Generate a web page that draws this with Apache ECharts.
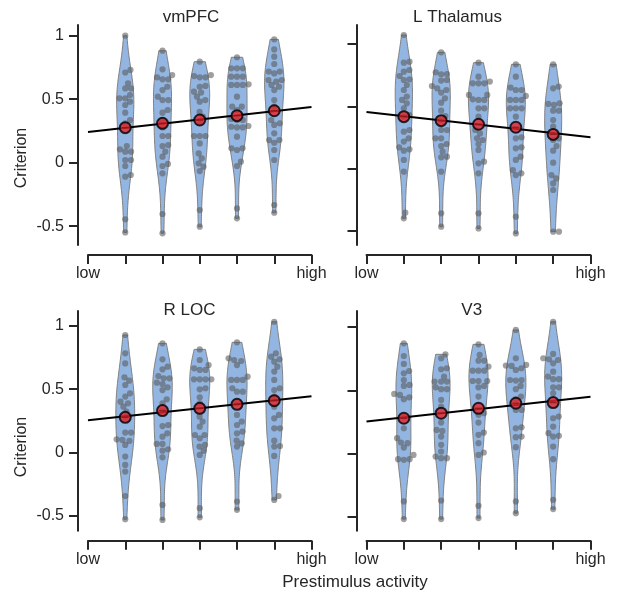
<!DOCTYPE html>
<html>
<head>
<meta charset="utf-8">
<script src="https://cdn.jsdelivr.net/npm/echarts@6/dist/echarts.min.js"></script>
<style>
  html, body { margin: 0; padding: 0; background: #ffffff; }
  #chart { width: 617px; height: 597px; }
</style>
</head>
<body>
<div id="chart"></div>
<script>
// Bin positions on the 0..6 activity axis (0 = low, 6 = high)
const binPositions = [1, 2, 3, 4, 5];
const xTickLabels = { 0: 'low', 6: 'high' };
const yTickValues = [-0.5, 0, 0.5, 1];
const regionNames = ['vmPFC', 'L Thalamus', 'R LOC', 'V3'];
const yAxisTitle = 'Criterion';
const xAxisTitle = 'Prestimulus activity';

// Per-subject criterion values, one array per activity bin
const vmPFC_bins = [
  [1.00, 0.73, 0.71, 0.625, 0.585, 0.585, 0.533, 0.507, 0.507, 0.48, 0.454, 0.394, 0.336, 0.31, 0.131, 0.087, 0.087, 0.105, 0.021, 0.021, -0.026, -0.097, -0.11, -0.446, -0.549],
  [0.882, 0.735, 0.69, 0.656, 0.656, 0.672, 0.598, 0.572, 0.52, 0.493, 0.493, 0.415, 0.394, 0.336, 0.278, 0.21, 0.21, 0.139, 0.131, 0.087, 0.047, -0.01, -0.026, -0.084, -0.404, -0.556],
  [0.795, 0.69, 0.672, 0.672, 0.682, 0.604, 0.598, 0.559, 0.552, 0.52, 0.48, 0.493, 0.40, 0.362, 0.323, 0.21, 0.21, 0.21, 0.152, 0.073, 0.034, -0.005, -0.031, -0.066, -0.373, -0.504],
  [0.83, 0.743, 0.743, 0.743, 0.677, 0.677, 0.677, 0.617, 0.612, 0.612, 0.612, 0.52, 0.441, 0.441, 0.415, 0.344, 0.336, 0.336, 0.289, 0.278, 0.278, 0.283, 0.205, 0.113, 0.10, 0.113, 0.008, -0.026, -0.36, -0.438],
  [0.971, 0.892, 0.835, 0.777, 0.717, 0.703, 0.717, 0.651, 0.638, 0.651, 0.598, 0.572, 0.612, 0.493, 0.441, 0.31, 0.297, 0.336, 0.231, 0.178, 0.157, 0.178, 0.10, 0.021, -0.333, -0.394]
];
const vmPFC_means = [0.276, 0.310, 0.336, 0.370, 0.409];

const lThalamus_bins = [
  [1.072, 0.858, 0.85, 0.791, 0.778, 0.743, 0.717, 0.711, 0.671, 0.631, 0.578, 0.551, 0.524, 0.484, 0.43, 0.417, 0.31, 0.297, 0.243, 0.217, 0.171, 0.155, 0.144, 0.07, -0.024, -0.353, -0.398],
  [0.933, 0.773, 0.757, 0.759, 0.711, 0.706, 0.663, 0.644, 0.631, 0.61, 0.564, 0.529, 0.465, 0.422, 0.39, 0.31, 0.31, 0.243, 0.243, 0.198, 0.182, 0.136, 0.091, 0.096, -0.024, -0.358, -0.465],
  [0.85, 0.738, 0.698, 0.684, 0.684, 0.684, 0.591, 0.591, 0.551, 0.551, 0.556, 0.484, 0.484, 0.417, 0.31, 0.283, 0.243, 0.23, 0.198, 0.15, 0.056, 0.043, -0.037, -0.358, -0.479],
  [0.837, 0.738, 0.631, 0.631, 0.65, 0.583, 0.551, 0.551, 0.551, 0.484, 0.484, 0.484, 0.417, 0.243, 0.251, 0.171, 0.163, 0.096, 0.07, -0.011, -0.037, -0.051, -0.385, -0.519],
  [0.837, 0.644, 0.658, 0.524, 0.511, 0.519, 0.465, 0.465, 0.39, 0.337, 0.243, 0.23, 0.182, 0.144, 0.048, -0.051, -0.078, -0.118, -0.171, -0.505, -0.505]
];
const lThalamus_means = [0.417, 0.385, 0.356, 0.332, 0.275];

const rLOC_bins = [
  [0.929, 0.784, 0.704, 0.567, 0.594, 0.533, 0.467, 0.441, 0.401, 0.388, 0.361, 0.322, 0.277, 0.156, 0.156, 0.09, 0.098, 0.103, 0.058, -0.034, -0.1, -0.153, -0.346, -0.53],
  [0.863, 0.736, 0.657, 0.678, 0.604, 0.586, 0.586, 0.551, 0.541, 0.515, 0.493, 0.42, 0.388, 0.33, 0.216, 0.208, 0.15, 0.124, 0.066, 0.066, 0.024, 0.013, -0.04, -0.417, -0.536],
  [0.815, 0.731, 0.691, 0.652, 0.652, 0.665, 0.578, 0.578, 0.578, 0.578, 0.507, 0.499, 0.435, 0.388, 0.282, 0.243, 0.203, 0.137, 0.137, 0.111, 0.058, 0.045, 0.013, -0.021, -0.443, -0.515],
  [0.871, 0.744, 0.731, 0.723, 0.691, 0.599, 0.573, 0.573, 0.573, 0.507, 0.48, 0.48, 0.388, 0.296, 0.243, 0.216, 0.164, 0.15, 0.092, 0.071, 0.045, -0.39, -0.456],
  [1.034, 0.784, 0.757, 0.718, 0.736, 0.678, 0.639, 0.573, 0.507, 0.493, 0.441, 0.361, 0.296, 0.269, 0.19, 0.19, 0.092, 0.05, 0.045, -0.029, -0.346, -0.377]
];
const rLOC_means = [0.277, 0.330, 0.348, 0.380, 0.409];

const v3_bins = [
  [0.872, 0.772, 0.709, 0.653, 0.635, 0.582, 0.543, 0.535, 0.464, 0.472, 0.445, 0.43, 0.29, 0.2, 0.121, 0.087, 0.047, 0.082, -0.011, -0.045, -0.045, -0.05, -0.379, -0.519],
  [0.785, 0.754, 0.675, 0.667, 0.609, 0.569, 0.569, 0.569, 0.509, 0.509, 0.524, 0.424, 0.372, 0.245, 0.187, 0.179, 0.134, 0.069, 0.016, -0.024, -0.037, -0.037, -0.372, -0.519],
  [0.864, 0.78, 0.735, 0.735, 0.688, 0.656, 0.656, 0.656, 0.574, 0.574, 0.574, 0.535, 0.524, 0.451, 0.319, 0.306, 0.245, 0.166, 0.148, 0.082, 0.008, -0.011, -0.414, -0.511],
  [0.978, 0.754, 0.701, 0.696, 0.675, 0.693, 0.661, 0.582, 0.582, 0.577, 0.535, 0.509, 0.451, 0.43, 0.345, 0.345, 0.208, 0.2, 0.134, 0.129, 0.05, -0.379, -0.472],
  [1.043, 0.788, 0.74, 0.746, 0.754, 0.714, 0.648, 0.609, 0.588, 0.588, 0.524, 0.524, 0.477, 0.292, 0.279, 0.213, 0.14, 0.134, 0.161, 0.055, -0.045, -0.366, -0.44]
];
const v3_means = [0.279, 0.319, 0.358, 0.398, 0.403];

const panelBins = [vmPFC_bins, lThalamus_bins, rLOC_bins, v3_bins];
const panelMeans = [vmPFC_means, lThalamus_means, rLOC_means, v3_means];

// ---- layout and style ----
const FONT = "'Liberation Sans', Arial, sans-serif";
const INK = '#262626';
const panelLayout = [
  { left: 88,    top: 25,  width: 223.5, height: 220,   ymin: -0.648, ymax: 1.084, title: [191, 17],   ylabel: [22, 158] },
  { left: 366.5, top: 25,  width: 224,   height: 220,   ymin: -0.612, ymax: 1.152, title: [457.5, 17], ylabel: null },
  { left: 88,    top: 311, width: 223.5, height: 219.7, ymin: -0.621, ymax: 1.119, title: [189.5, 310], ylabel: [22, 447] },
  { left: 366.5, top: 311, width: 224,   height: 219.7, ymin: -0.611, ymax: 1.128, title: [471.7, 310], ylabel: null }
];
const VIOLIN_HALF_WIDTH = 0.27;   // in x-axis units, for the widest violin of a panel
const DOT_DIAMETER = 5.8;         // px, also used for swarm spacing

// Gaussian KDE (Scott bandwidth) evaluated between the min and max of a sample
function kdeCurve(values, steps) {
  const n = values.length;
  const mean = values.reduce((a, b) => a + b, 0) / n;
  const sd = Math.sqrt(values.reduce((a, b) => a + (b - mean) * (b - mean), 0) / (n - 1));
  const bw = sd * Math.pow(n, -0.2);
  const lo = Math.min(...values), hi = Math.max(...values);
  const out = [];
  for (let s = 0; s <= steps; s++) {
    const y = lo + (hi - lo) * s / steps;
    let d = 0;
    for (const v of values) { const z = (y - v) / bw; d += Math.exp(-0.5 * z * z); }
    out.push({ y: y, d: d / (n * bw * Math.sqrt(2 * Math.PI)) });
  }
  return out;
}

// Beeswarm offsets (px) so that dots of a bin do not overlap
function swarmOffsets(values, pxPerUnit, dia) {
  const order = values.map((v, i) => i).sort((a, b) => values[a] - values[b]);
  const placed = [];
  const off = new Array(values.length).fill(0);
  for (const i of order) {
    const y = values[i] * pxPerUnit;
    const cands = [0];
    for (const p of placed) {
      const dy = Math.abs(p.y - y);
      if (dy < dia) {
        const dx = Math.sqrt(dia * dia - dy * dy);
        cands.push(p.x + dx + 0.01, p.x - dx - 0.01);
      }
    }
    cands.sort((a, b) => Math.abs(a) - Math.abs(b));
    let chosen = 0;
    for (const c of cands) {
      if (placed.every(p => (p.x - c) * (p.x - c) + (p.y - y) * (p.y - y) >= dia * dia - 1e-6)) { chosen = c; break; }
    }
    placed.push({ x: chosen, y: y });
    off[i] = chosen;
  }
  return off;
}

// Least-squares line through the bin means
function fitLine(xs, ys) {
  const n = xs.length;
  const mx = xs.reduce((a, b) => a + b, 0) / n;
  const my = ys.reduce((a, b) => a + b, 0) / n;
  let sxy = 0, sxx = 0;
  for (let i = 0; i < n; i++) { sxy += (xs[i] - mx) * (ys[i] - my); sxx += (xs[i] - mx) * (xs[i] - mx); }
  const slope = sxy / sxx;
  return { slope: slope, intercept: my - slope * mx };
}

const grids = [], xAxes = [], yAxes = [], series = [], graphics = [];

panelLayout.forEach((L, p) => {
  grids.push({ left: L.left, top: L.top, width: L.width, height: L.height });
  xAxes.push({
    type: 'value', gridIndex: p, min: 0, max: 6, interval: 1, offset: 10, position: 'bottom',
    axisLine: { show: true, onZero: false, lineStyle: { color: INK, width: 2 } },
    axisTick: { show: true, length: 9, lineStyle: { color: INK, width: 2 } },
    splitLine: { show: false },
    axisLabel: {
      color: INK, fontSize: 16, fontFamily: FONT, margin: 11,
      showMinLabel: true, showMaxLabel: true,
      formatter: v => xTickLabels[v] || ''
    }
  });
  yAxes.push({
    type: 'value', gridIndex: p, min: L.ymin, max: L.ymax, offset: 10, position: 'left',
    axisLine: { show: true, onZero: false, lineStyle: { color: INK, width: 2 } },
    axisTick: { show: true, length: 9, customValues: yTickValues, lineStyle: { color: INK, width: 2 } },
    splitLine: { show: false },
    axisLabel: {
      show: L.ylabel !== null, customValues: yTickValues,
      color: INK, fontSize: 16, fontFamily: FONT, margin: 14,
      formatter: v => String(v)
    }
  });

  const bins = panelBins[p];
  const means = panelMeans[p];

  // violin outlines
  const curves = bins.map(b => kdeCurve(b, 80));
  const maxD = Math.max(...curves.map(c => Math.max(...c.map(q => q.d))));
  series.push({
    type: 'custom', xAxisIndex: p, yAxisIndex: p, z: 1,
    data: binPositions.map((x, k) => [x, k]),
    encode: { x: 0 },
    renderItem: (params, api) => {
      const xc = api.value(0), k = api.value(1);
      const c = curves[k];
      const pts = [];
      for (let j = 0; j < c.length; j++) pts.push(api.coord([xc + VIOLIN_HALF_WIDTH * c[j].d / maxD, c[j].y]));
      for (let j = c.length - 1; j >= 0; j--) pts.push(api.coord([xc - VIOLIN_HALF_WIDTH * c[j].d / maxD, c[j].y]));
      return { type: 'polygon', shape: { points: pts }, style: { fill: '#92b5e1', stroke: '#808080', lineWidth: 1 } };
    }
  });

  // individual subjects as a swarm
  const pxPerX = L.width / 6;
  const pxPerY = L.height / (L.ymax - L.ymin);
  const dots = [];
  bins.forEach((b, k) => {
    const off = swarmOffsets(b, pxPerY, DOT_DIAMETER);
    b.forEach((v, i) => dots.push([binPositions[k] + off[i] / pxPerX, v]));
  });
  series.push({
    type: 'scatter', xAxisIndex: p, yAxisIndex: p, z: 2, data: dots,
    symbol: 'circle', symbolSize: DOT_DIAMETER + 0.4,
    itemStyle: { color: 'rgba(88,88,88,0.72)' }, silent: true
  });

  // regression line across the full axis
  const fit = fitLine(binPositions, means);
  series.push({
    type: 'line', xAxisIndex: p, yAxisIndex: p, z: 3, symbol: 'none',
    data: [[0, fit.intercept], [6, fit.intercept + 6 * fit.slope]],
    lineStyle: { color: '#000000', width: 2 }
  });

  // bin means
  const meanPts = binPositions.map((x, k) => [x, means[k]]);
  series.push({
    type: 'scatter', xAxisIndex: p, yAxisIndex: p, z: 4, data: meanPts,
    symbol: 'circle', symbolSize: 11,
    itemStyle: { color: '#e3262c', borderColor: '#000000', borderWidth: 2 }
  });
  series.push({
    type: 'scatter', xAxisIndex: p, yAxisIndex: p, z: 5, data: meanPts,
    symbol: 'rect', symbolSize: [7, 1.4],
    itemStyle: { color: '#8a1518' }
  });

  graphics.push({
    type: 'text', x: L.title[0], y: L.title[1],
    style: { text: regionNames[p], fill: INK, font: '17px ' + FONT, textAlign: 'center', textVerticalAlign: 'middle' }
  });
  if (L.ylabel) {
    graphics.push({
      type: 'text', x: L.ylabel[0], y: L.ylabel[1], rotation: Math.PI / 2,
      style: { text: yAxisTitle, fill: INK, font: '16px ' + FONT, textAlign: 'center', textVerticalAlign: 'middle' }
    });
  }
});

graphics.push({
  type: 'text', x: 355, y: 582,
  style: { text: xAxisTitle, fill: INK, font: '17px ' + FONT, textAlign: 'center', textVerticalAlign: 'middle' }
});

const chart = echarts.init(document.getElementById('chart'), null, { renderer: 'canvas' });
chart.setOption({
  backgroundColor: '#ffffff',
  animation: false,
  grid: grids,
  xAxis: xAxes,
  yAxis: yAxes,
  series: series,
  graphic: graphics
});
</script>
</body>
</html>
